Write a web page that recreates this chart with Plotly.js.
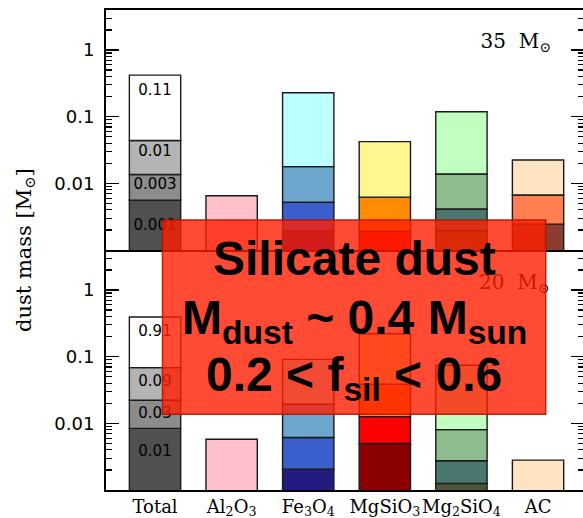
<!DOCTYPE html>
<html><head><meta charset="utf-8">
<script src="https://cdn.plot.ly/plotly-3.0.1.min.js"></script>
<style>html,body{margin:0;padding:0;overflow:hidden;background:#fff}#chart{width:584px;height:518px}</style>
</head><body><div id="chart"></div>
<script>
// ---- data ----
const categories = ['Total','Al<sub>2</sub>O<sub>3</sub>','Fe<sub>3</sub>O<sub>4</sub>','MgSiO<sub>3</sub>','Mg<sub>2</sub>SiO<sub>4</sub>','AC'];
// 35 Msun panel: mass of each stacked component, bottom layer -> top layer [Msun]
const m35_layer1 = [0.0056, null, 0.00195, null,   0.00195, null];
const m35_layer2 = [0.0080, null, 0.00325, 0.0019, 0.00218, 0.00244];
const m35_layer3 = [0.0304, null, 0.0126,  0.0043, 0.00967, 0.00424];
const m35_layer4 = [0.376,  0.0065, 0.211, 0.036,  0.105,   0.0157];
// 20 Msun panel
const m20_layer1 = [0.0084, null, 0.00205, 0.00498, 0.00125, null];
const m20_layer2 = [0.0138, null, 0.00407, 0.00762, 0.00149, null];
const m20_layer3 = [0.0464, null, 0.0132,  0.0259,  0.0053,  null];
const m20_layer4 = [0.325,  0.00576, 0.0719, 0.1825, 0.0662, 0.0028];
// labels written inside the Total bars
const total35Labels = ['0.001','0.003','0.01','0.11'];
const total20Labels = ['0.01','0.03','0.09','0.91'];
const panelLabels = ['35\u00a0 M<sub>\u2299</sub>', '20\u00a0 M<sub>\u2299</sub>'];
const tickVals = [0.01, 0.1, 1];
const tickText = ['0.01','0.1','1'];
const boxLines = ['<b>Silicate dust</b>', '<b>M<sub>dust</sub> ~ 0.4 M<sub>sun</sub></b>', '<b>0.2 < f<sub>sil</sub> < 0.6</b>'];

// ---- styles ----
const layerColors = [
  ['#505050','#FFC0CB','#221B80','#8B0000','#4C5535','#8B3E2F'],
  ['#8C8C8C','#FFC0CB','#3A5FCD','#FF0000','#4A786E','#8B3E2F'],
  ['#B4B4B4','#FFC0CB','#6CA6CD','#FF8C00','#8FBC8F','#FF7F50'],
  ['#FFFFFF','#FFC0CB','#BBFFFF','#FFF68F','#C1FFC1','#FFE4C4']];
const xs = categories.map((_, i) => i);

function stackTraces(layers, xa, ya) {
  const cum = categories.map(() => 0);
  return layers.map((vals, k) => {
    const base = cum.map(c => (c > 0 ? c : 1e-5));
    vals.forEach((v, i) => { if (v != null) cum[i] += v; });
    return {type:'bar', x: xs, y: vals, base: base, xaxis: xa, yaxis: ya, width: 0.67,
      marker:{color: layerColors[k], line:{color:'#1a1a1a', width:1.4}},
      hoverinfo:'skip', showlegend:false};
  });
}
const labelPos35 = [0.00224, 0.00946, 0.0292, 0.237];
const labelPos20 = [0.00365, 0.0137, 0.0418, 0.234];
const sansLbl = {family:'DejaVu Sans', size:15, color:'#000'};
const serifLbl = {family:'DejaVu Serif', size:20, color:'#000'};

const traces = [].concat(
  stackTraces([m35_layer1, m35_layer2, m35_layer3, m35_layer4], 'x', 'y'),
  stackTraces([m20_layer1, m20_layer2, m20_layer3, m20_layer4], 'x2', 'y2'),
  [
    {type:'scatter', mode:'text', x: total35Labels.map(() => 0), y: labelPos35, text: total35Labels,
     textfont: sansLbl, xaxis:'x', yaxis:'y', hoverinfo:'skip', showlegend:false},
    {type:'scatter', mode:'text', x: total20Labels.map(() => 0), y: labelPos20, text: total20Labels,
     textfont: sansLbl, xaxis:'x2', yaxis:'y2', hoverinfo:'skip', showlegend:false},
    {type:'scatter', mode:'text', x:[4.71], y:[1.27], text:[panelLabels[0]],
     textfont: serifLbl, xaxis:'x', yaxis:'y', hoverinfo:'skip', showlegend:false},
    {type:'scatter', mode:'text', x:[4.69], y:[1.22], text:[panelLabels[1]],
     textfont: serifLbl, xaxis:'x2', yaxis:'y2', hoverinfo:'skip', showlegend:false}
  ]);

const minorVals = [];
for (let e = -3; e <= 0; e++) for (let m = 2; m <= 9; m++) minorVals.push(m * Math.pow(10, e));

function yAxis(domain, anchor) {
  return {type:'log', domain: domain, anchor: anchor, range:[-3, 0.6],
    tickmode:'array', tickvals: tickVals, ticktext: tickText,
    ticks:'inside', ticklen:13, tickwidth:1.5, tickcolor:'#000',
    showline:true, linewidth:2, linecolor:'#000', mirror:'allticks',
    showgrid:false, zeroline:false, ticklabelstandoff: 6,
    tickfont:{family:'DejaVu Sans', size:18, color:'#000'},
    minor:{tickmode:'array', tickvals: minorVals, ticks:'inside', ticklen:6, tickwidth:1.2, tickcolor:'#000', showgrid:false}};
}
function xAxis(anchor, labels) {
  return {domain:[0,1], anchor: anchor, range:[-0.64, 5.6], tickmode:'array', tickvals: xs, ticktext: categories,
    showticklabels: labels, tickangle:0, ticks:'', showline:true, linewidth:2, linecolor:'#000', mirror: !labels,
    showgrid:false, zeroline:false, ticklabelstandoff: -1,
    tickfont:{family:'DejaVu Serif', size:18, color:'#000'}};
}

const boxFont = {family:'Liberation Sans, Arial, sans-serif', size:48, color:'#000'};
const layout = {
  width:584, height:518, margin:{l:106, r:0, t:10, b:28},
  paper_bgcolor:'#fff', plot_bgcolor:'#fff', barmode:'overlay', showlegend:false,
  xaxis: xAxis('y', false), xaxis2: xAxis('y2', true),
  yaxis: yAxis([0.5, 1], 'x'), yaxis2: yAxis([0, 0.5], 'x2'),
  shapes:[{type:'rect', xref:'paper', yref:'paper', x0:0.1182, x1:0.9199, y0:0.1577, y1:0.5625,
    fillcolor:'rgba(255,30,0,0.8)', line:{color:'rgba(180,20,0,0.9)', width:1.5}, layer:'above'}],
  annotations:[
    {xref:'paper', yref:'paper', x:0.519, y:0.483, text: boxLines[0], showarrow:false, font: boxFont, xanchor:'center', yanchor:'middle'},
    {xref:'paper', yref:'paper', x:0.519, y:0.353, text: boxLines[1], showarrow:false, font: boxFont, xanchor:'center', yanchor:'middle'},
    {xref:'paper', yref:'paper', x:0.519, y:0.233, text: boxLines[2], showarrow:false, font: boxFont, xanchor:'center', yanchor:'middle'},
    {xref:'paper', yref:'paper', x:-0.1695, y:0.5, text:'dust mass [M<sub>\u2299</sub>]', showarrow:false, textangle:-90,
     font:{family:'DejaVu Serif', size:21, color:'#000'}, xanchor:'center', yanchor:'middle'}
  ]
};
Plotly.newPlot('chart', traces, layout, {staticPlot:true, displayModeBar:false});
</script></body></html>
